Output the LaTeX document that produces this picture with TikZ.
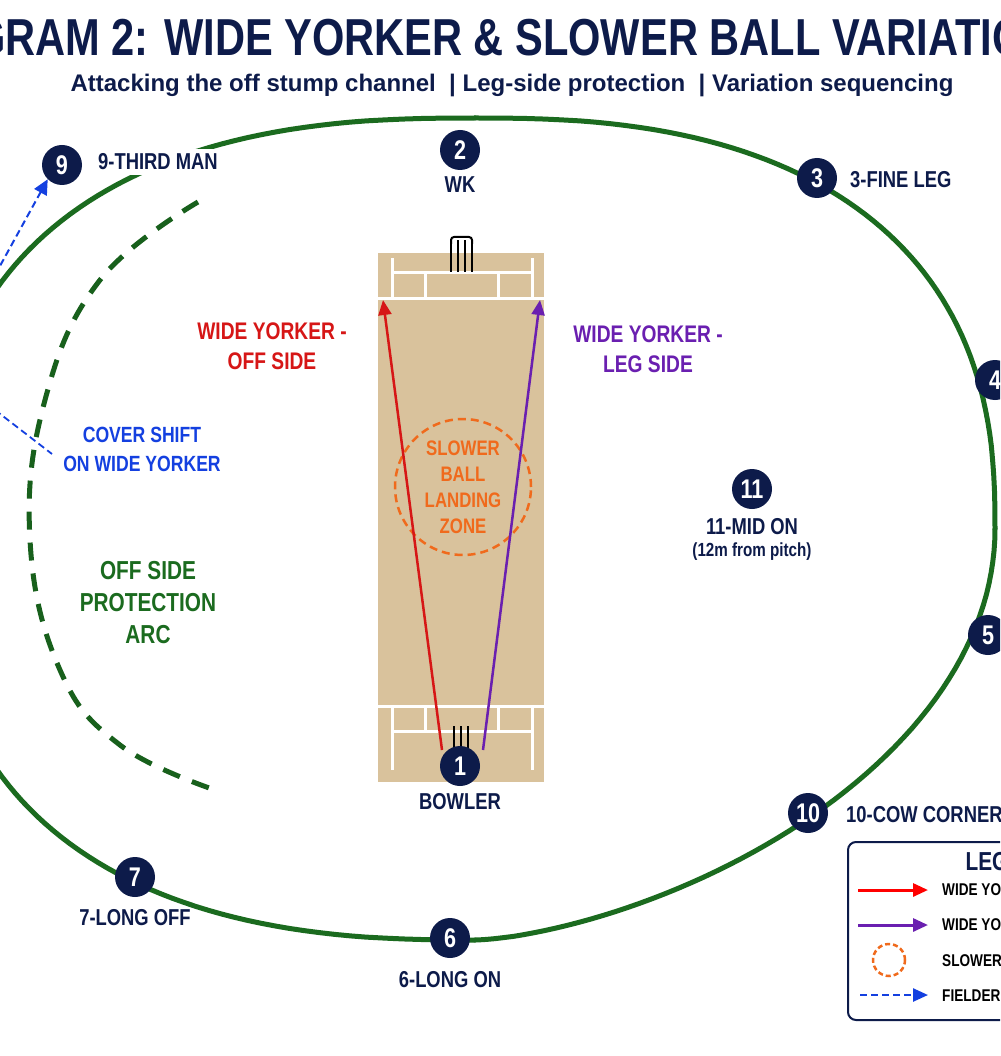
\documentclass[tikz,border=0pt]{standalone}
\usepackage{fontspec}
\setmainfont{Liberation Sans}
\newfontfamily\cond[FakeStretch=0.8]{Liberation Sans Bold}
\usetikzlibrary{arrows.meta}
\definecolor{navy}{HTML}{0D1B4A}
\definecolor{fgreen}{HTML}{1B6B1F}
\definecolor{pitch}{HTML}{D9C29C}
\definecolor{ored}{HTML}{D61616}
\definecolor{opurple}{HTML}{6A1FB0}
\definecolor{oorange}{HTML}{F06A1C}
\definecolor{oblue}{HTML}{1440E0}
\tikzset{
 fld/.style={circle,fill=navy,minimum size=40pt,inner sep=0pt,text=white,font=\cond\fontsize{27}{27}\selectfont},
 lbl/.style={text=navy,font=\cond\fontsize{23}{26}\selectfont,align=center,inner sep=0pt},
 clbl/.style={font=\cond\fontsize{24}{30}\selectfont,align=center,inner sep=0pt},
 crease/.style={white,line width=3pt},
 bnd/.style={fgreen,line width=5pt,line cap=round},
 leg/.style={font=\cond\fontsize{17}{17}\selectfont,anchor=west,inner sep=0pt},
 tip/.style={-{Triangle[length=15pt,width=13pt]}},
 mdash/.style={dash pattern=on 7pt off 4pt}
}
\begin{document}
\begin{tikzpicture}[x=1pt,y=-1pt]
\useasboundingbox (0,0) rectangle (1000,1056);
\clip (0,0) rectangle (1000,1056);
\fill[white] (0,0) rectangle (1000,1056);
% titles
\node[text=navy,font=\cond\fontsize{52}{52}\selectfont] (title) at (492,38) {DIAGRAM 2: WIDE YORKER \& SLOWER BALL VARIATIONS};
\node[text=navy,font=\bfseries\fontsize{24}{24}\selectfont] (sub) at (512,85) {Attacking the off stump channel \ | Leg-side protection \ | Variation sequencing};
% boundary
\draw[bnd] plot[domain=0:90,samples=60,variable=\t] ({475+520*pow(abs(cos(\t)),0.8)},{529-411*pow(abs(sin(\t)),0.8)});
\draw[bnd] plot[domain=90:180,samples=60,variable=\t] ({475-540*pow(abs(cos(\t)),0.8)},{529-411*pow(abs(sin(\t)),0.8)});
\draw[bnd] plot[domain=180:270,samples=60,variable=\t] ({475-540*pow(abs(cos(\t)),0.8)},{529+411*pow(abs(sin(\t)),0.8)});
\draw[bnd] plot[domain=270:360,samples=60,variable=\t] ({475+520*pow(abs(cos(\t)),1.3)},{529+411*abs(sin(\t))});
% off side arc
\draw[fgreen!90!black,line width=5pt,dash pattern=on 18pt off 13pt] plot[smooth,tension=0.7] coordinates {(198,202) (100,280) (45,400) (30,540) (60,670) (120,745) (215,790)};
% pitch
\fill[pitch] (378,253) rectangle (544,782);
\draw[crease] (378,298) -- (544,298);
\draw[crease] (392,258) -- (392,298) (532,258) -- (532,298);
\draw[crease] (392,273) -- (532,273);
\draw[crease] (425,273) -- (425,298) (498,273) -- (498,298);
\draw[crease] (378,706) -- (544,706);
\draw[crease] (392,706) -- (392,770) (532,706) -- (532,770);
\draw[crease] (392,731) -- (532,731);
\draw[crease] (425,706) -- (425,731) (498,706) -- (498,731);
\foreach \x in {453,460,467,474}{\draw[black,line width=2pt] (\x-2,272) -- (\x-2,240);}
\draw[black,line width=2pt,rounded corners=3pt] (451,244) -- (451,237) -- (472,237) -- (472,244);
\foreach \x in {454,461,468}{\draw[black,line width=1.8pt] (\x,748) -- (\x,726);}
% landing zone
\node[circle,draw=oorange,dash pattern=on 8pt off 5pt,line width=2.5pt,minimum size=136pt] (zone) at (463,487) {};
\node[clbl,text=oorange,font=\cond\fontsize{21}{26}\selectfont] (zonet) at (463,487) {SLOWER\\BALL\\LANDING\\ZONE};
% fielders
\node[fld] (f1) at (460,766) {1};
\node[fld] (f2) at (460,150) {2};
\node[fld] (f3) at (817,178) {3};
\node[fld] (f4) at (995,380) {4};
\node[fld] (f5) at (988,635) {5};
\node[fld] (f6) at (450,938) {6};
\node[fld] (f7) at (135,877) {7};
\node[fld] (f9) at (62,165) {9};
\node[fld] (f10) at (808,813) {10};
\node[fld] (f11) at (752,489) {11};
% deliveries
\coordinate (rt) at (383,300);
\coordinate (pt) at (540,300);
\draw[ored,line width=2.5pt,tip] (442,750) -- (rt);
\draw[opurple,line width=2.5pt,tip] (483,750) -- (pt);
\node[lbl] (l1) at (460,802) {BOWLER};
\node[lbl] (l2) at (460,185) {WK};
\node[lbl,anchor=west] (l3) at (850,180) {3-FINE LEG};
\node[lbl] (l6) at (450,980) {6-LONG ON};
\node[lbl] (l7) at (135,918) {7-LONG OFF};
\node[lbl,anchor=west,fill=white,inner xsep=8pt,inner ysep=5pt] (l9) at (90,162) {9-THIRD MAN};
\node[lbl,anchor=west] (l10) at (846,815) {10-COW CORNER};
\node[lbl] (l11) at (752,527) {11-MID ON};
\node[lbl,font=\cond\fontsize{19}{19}\selectfont] (l11b) at (752,552) {(12m from pitch)};
\node[clbl,text=ored] (ry) at (272,346) {WIDE YORKER -\\OFF SIDE};
\node[clbl,text=opurple] (py) at (648,349) {WIDE YORKER -\\LEG SIDE};
\node[clbl,text=oblue,font=\cond\fontsize{22}{29}\selectfont] (cs) at (142,449) {COVER SHIFT\\ON WIDE YORKER};
\node[clbl,text=fgreen,font=\cond\fontsize{26}{32}\selectfont] (ar) at (148,603) {OFF SIDE\\PROTECTION\\ARC};
% fielder movement
\coordinate (m1a) at (-5,275);
\coordinate (m2a) at (-5,410);
\coordinate (m2b) at (52,454);
\draw[oblue,line width=2pt,mdash,-{Triangle[length=15pt,width=14pt]}] (m1a) -- (f9.south west);
\draw[oblue,line width=1.8pt,mdash] (m2a) -- (m2b);
% legend
\draw[navy,line width=2pt,rounded corners=8pt,fill=white] (848,842) rectangle (1040,1020);
\node[text=navy,font=\cond\fontsize{26}{26}\selectfont,anchor=west] (lt) at (962,862) {LEGEND};
\coordinate (a1) at (858,890); \coordinate (b1) at (928,890);
\draw[red,line width=3pt,tip] (a1) -- (b1);
\node[leg] (t1) at (942,890) {WIDE YORKER - OFF SIDE};
\coordinate (a2) at (858,925); \coordinate (b2) at (928,925);
\draw[opurple,line width=3pt,tip] (a2) -- (b2);
\node[leg] (t2) at (942,925) {WIDE YORKER - LEG SIDE};
\node[circle,draw=oorange,dash pattern=on 5pt off 3pt,line width=2.5pt,minimum size=32pt] (c3) at (889,960) {};
\node[leg] (t3) at (942,961) {SLOWER BALL LANDING ZONE};
\coordinate (a4) at (860,995); \coordinate (b4) at (928,995);
\draw[oblue,line width=2.5pt,mdash,tip] (a4) -- (b4);
\node[leg] (t4) at (942,996) {FIELDER MOVEMENT};
\end{tikzpicture}
\end{document}
